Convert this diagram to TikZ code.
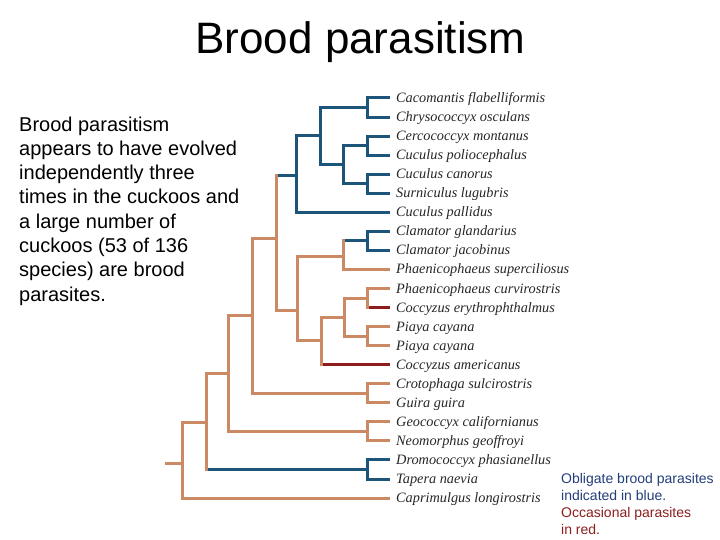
\documentclass[tikz,border=0pt]{standalone}
\usepackage{fontspec}
\setmainfont{Liberation Sans}
\newfontfamily\taxfont{Liberation Serif}
\definecolor{brc}{RGB}{204,138,100}
\definecolor{blc}{RGB}{28,84,122}
\definecolor{rdc}{RGB}{140,28,30}
\definecolor{legblue}{RGB}{34,62,122}
\definecolor{legred}{RGB}{140,30,30}
\begin{document}
\begin{tikzpicture}[x=1pt,y=-1pt,
  line join=miter,
  br/.style={draw=brc, line width=3pt},
  bl/.style={draw=blc, line width=3pt},
  rd/.style={draw=rdc, line width=3pt},
  tax/.style={anchor=west, inner xsep=6pt, inner ysep=0pt,
    font=\taxfont\itshape\fontsize{14.3}{16}\selectfont,
    text height=11pt, text depth=2pt, text=black!85}]
\useasboundingbox (0,0) rectangle (720,540);

% title and texts
\node[anchor=base, inner sep=0, font=\fontsize{44}{50}\selectfont] (title) at (360.5,54) {Brood parasitism};
\node[anchor=north west, align=left, inner sep=0, font=\fontsize{20}{24.3}\selectfont] (desc) at (19,116.4)
 {Brood parasitism\\appears to have evolved\\independently three\\times in the cuckoos and\\a large number of\\cuckoos (53 of 136\\species) are brood\\parasites.};
\node[anchor=north west, align=left, inner sep=0, font=\fontsize{14}{16.9}\selectfont] (legend) at (561,473.1)
 {\textcolor{legblue}{Obligate brood parasites}\\\textcolor{legblue}{indicated in blue.}\\\textcolor{legred}{Occasional parasites}\\\textcolor{legred}{in red.}};

% taxa
\node[tax] (t1) at (390,98) {Cacomantis flabelliformis};
\node[tax] (t2) at (390,117.05) {Chrysococcyx osculans};
\node[tax] (t3) at (390,136.1) {Cercococcyx montanus};
\node[tax] (t4) at (390,155.15) {Cuculus poliocephalus};
\node[tax] (t5) at (390,174.2) {Cuculus canorus};
\node[tax] (t6) at (390,193.25) {Surniculus lugubris};
\node[tax] (t7) at (390,212.3) {Cuculus pallidus};
\node[tax] (t8) at (390,231.35) {Clamator glandarius};
\node[tax] (t9) at (390,250.4) {Clamator jacobinus};
\node[tax] (t10) at (390,269.45) {Phaenicophaeus superciliosus};
\node[tax] (t11) at (390,288.5) {Phaenicophaeus curvirostris};
\node[tax] (t12) at (390,307.55) {Coccyzus erythrophthalmus};
\node[tax] (t13) at (390,326.6) {Piaya cayana};
\node[tax] (t14) at (390,345.65) {Piaya cayana};
\node[tax] (t15) at (390,364.7) {Coccyzus americanus};
\node[tax] (t16) at (390,383.75) {Crotophaga sulcirostris};
\node[tax] (t17) at (390,402.8) {Guira guira};
\node[tax] (t18) at (390,421.85) {Geococcyx californianus};
\node[tax] (t19) at (390,440.9) {Neomorphus geoffroyi};
\node[tax] (t20) at (390,459.95) {Dromococcyx phasianellus};
\node[tax] (t21) at (390,479) {Tapera naevia};
\node[tax] (t22) at (390,498.05) {Caprimulgus longirostris};

% internal nodes
\coordinate (A) at (367,107.5);
\coordinate (C1) at (367,145.6);
\coordinate (C2) at (367,183.7);
\coordinate (D) at (343,164.6);
\coordinate (B) at (320,136);
\coordinate (E) at (296,176);
\coordinate (F) at (276,238);
\coordinate (G) at (297,310);
\coordinate (H) at (343,256);
\coordinate (CL) at (367,240.9);
\coordinate (I) at (321,340);
\coordinate (J) at (344,317.5);
\coordinate (K) at (367,298);
\coordinate (PI) at (367,336.1);
\coordinate (M) at (252,315);
\coordinate (CR) at (367,393.3);
\coordinate (P) at (228,373);
\coordinate (GN) at (367,431.4);
\coordinate (Q) at (206,422);
\coordinate (DT) at (367,469.5);
\coordinate (R) at (182,463);
\coordinate (root) at (165,463);

% blue clade
\draw[bl] (A) |- (t1.west);
\draw[bl] (A) |- (t2.west);
\draw[bl] (C1) |- (t3.west);
\draw[bl] (C1) |- (t4.west);
\draw[bl] (C2) |- (t5.west);
\draw[bl] (C2) |- (t6.west);
\draw[bl] (D) |- (C1);
\draw[bl] (D) |- (C2);
\draw[bl] (B) |- (A);
\draw[bl] (B) |- (D);
\draw[bl] (E) |- (B);
\draw[bl] (E) |- (t7.west);
\draw[bl] (CL) |- (t8.west);
\draw[bl] (CL) |- (t9.west);
\draw[bl] (DT) |- (t20.west);
\draw[bl] (DT) |- (t21.west);

% brown edges
\draw[br] (F) |- (G);
\draw[br] (G) |- (H);
\draw[br] (G) |- (I);
\draw[br] (H) |- (t10.west);
\draw[br] (I) |- (J);
\draw[br] (J) |- (K);
\draw[br] (J) |- (PI);
\draw[br] (K) |- (t11.west);
\draw[br] (PI) |- (t13.west);
\draw[br] (PI) |- (t14.west);
\draw[br] (M) |- (F);
\draw[br] (M) |- (CR);
\draw[br] (CR) |- (t16.west);
\draw[br] (CR) |- (t17.west);
\draw[br] (P) |- (M);
\draw[br] (P) |- (GN);
\draw[br] (GN) |- (t18.west);
\draw[br] (GN) |- (t19.west);
\draw[br] (Q) |- (P);
\draw[br] (R) |- (Q);
\draw[br] (R) |- (t22.west);
\draw[br] (root) -- (R);

% mixed edges: brown vertical, coloured horizontal
\draw[bl] (F |- E) -- (E);
\draw[br, line cap=rect] (F) -- (F |- E);
\draw[bl] (H |- CL) -- (CL);
\draw[br, line cap=rect] (H) -- (H |- CL);
\draw[bl] (Q |- DT) -- (DT);
\draw[br, line cap=rect] (Q) -- (Q |- DT);
\draw[rd] (K |- t12.west) -- (t12.west);
\draw[br, line cap=rect] (K) -- (K |- t12.west);
\draw[rd] (I |- t15.west) -- (t15.west);
\draw[br, line cap=rect] (I) -- (I |- t15.west);
\end{tikzpicture}
\end{document}
